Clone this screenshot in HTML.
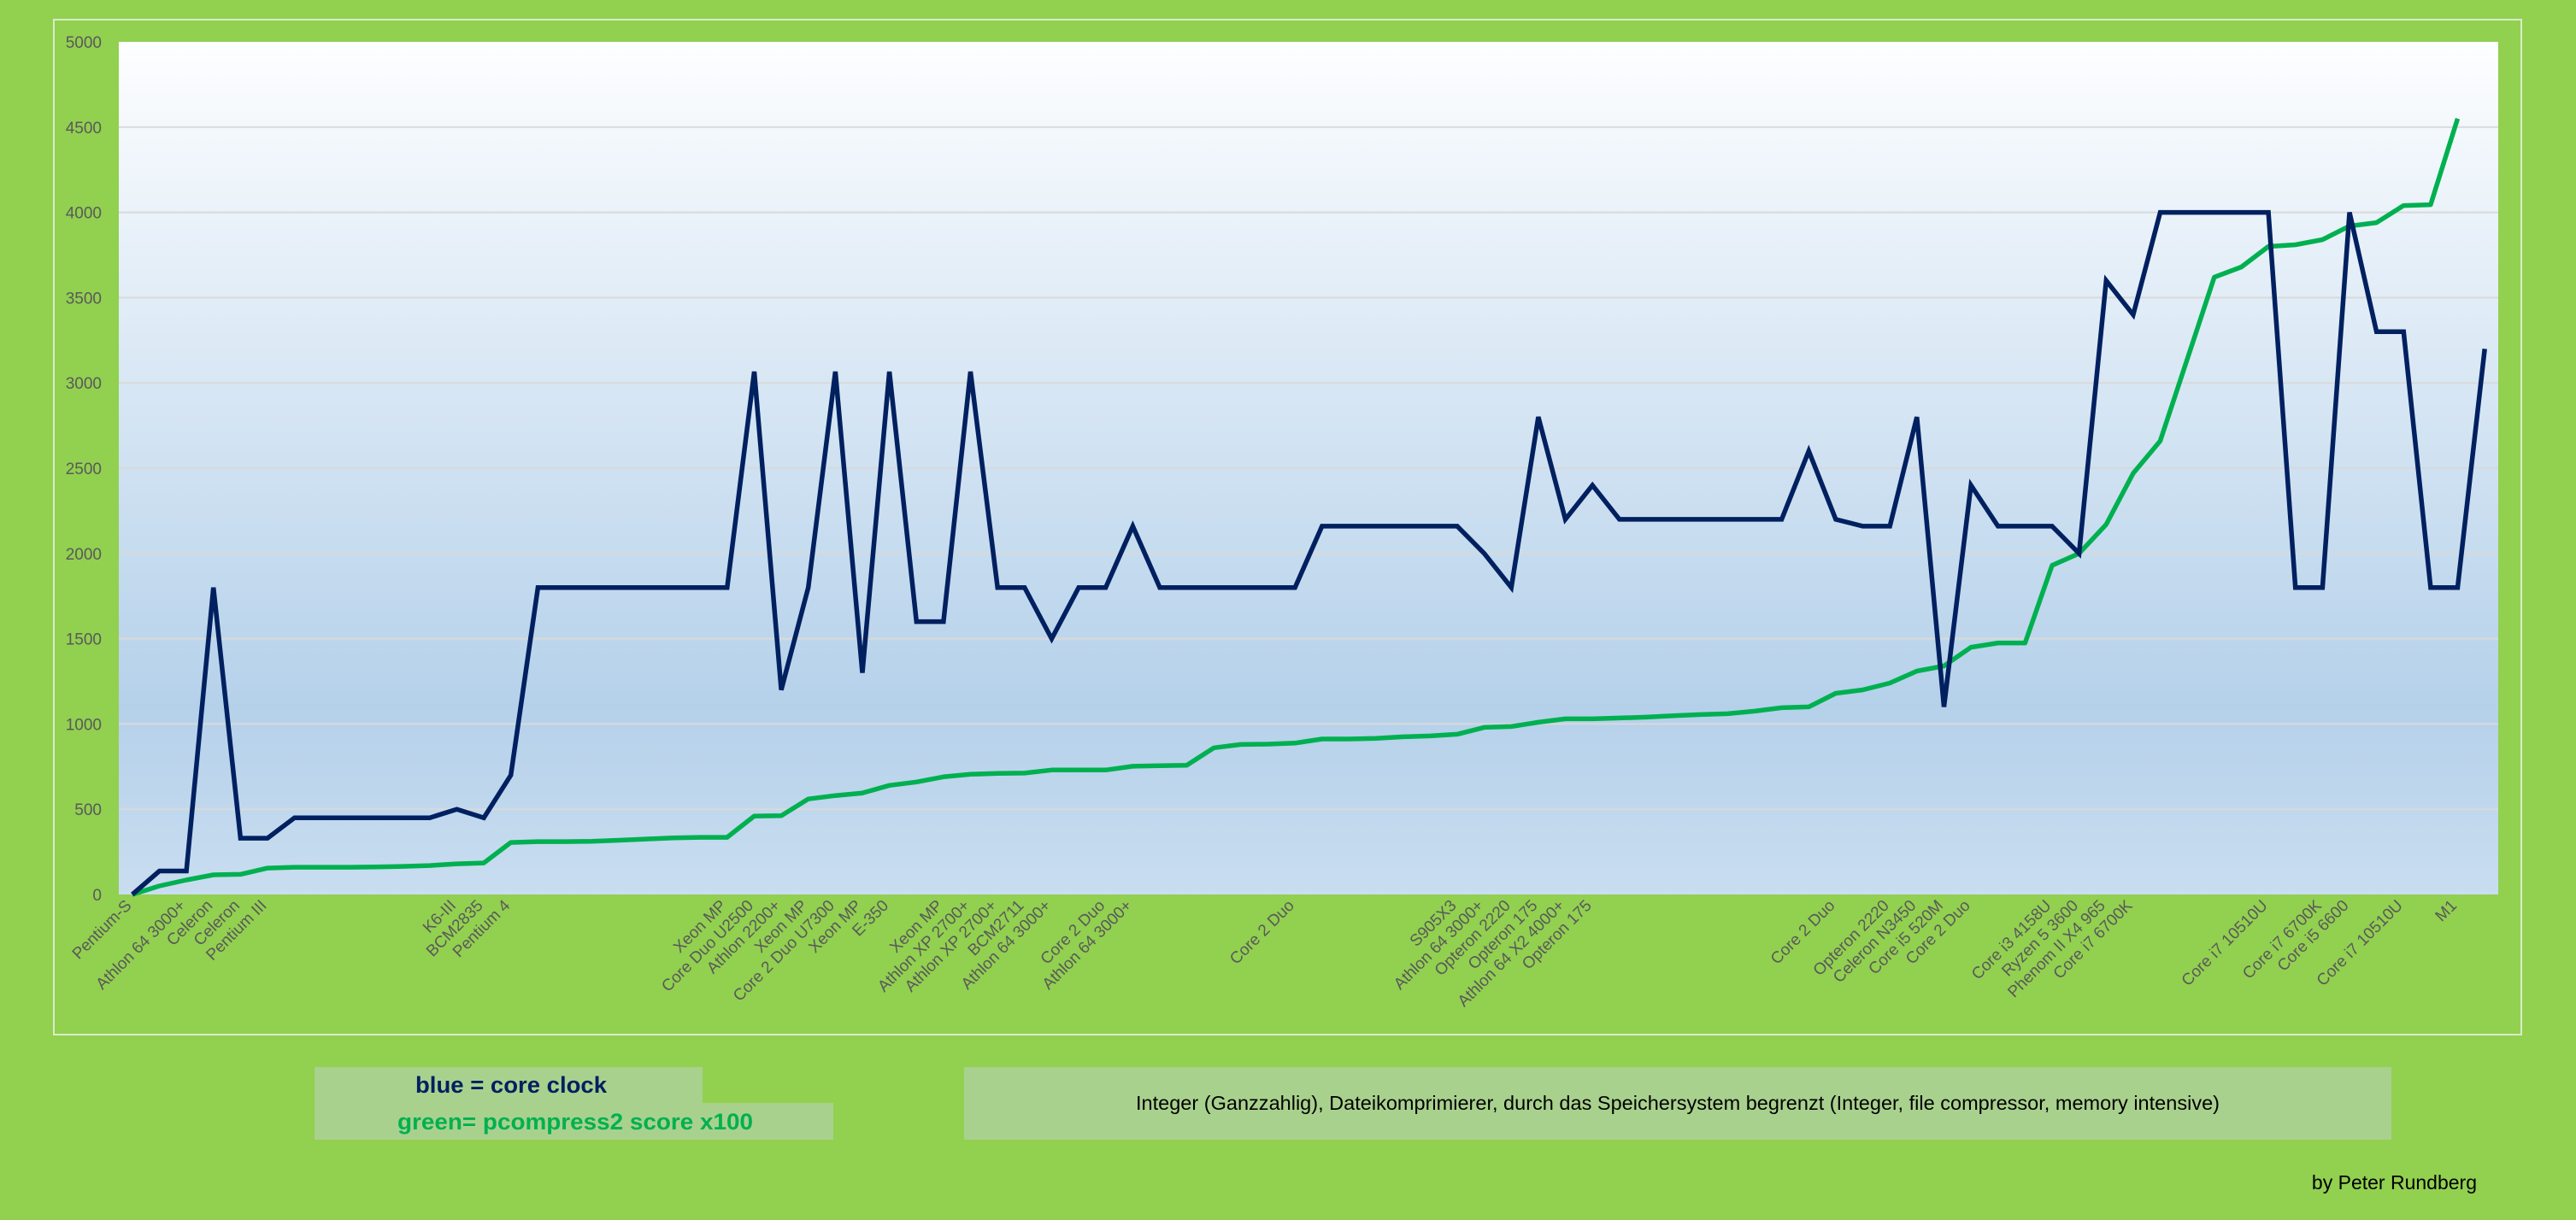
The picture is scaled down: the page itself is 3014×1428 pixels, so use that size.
<!DOCTYPE html>
<html><head><meta charset="utf-8"><style>
html,body{margin:0;padding:0;background:#92d050;}
svg{display:block;font-family:"Liberation Sans",sans-serif;}
</style></head><body>
<svg id="c" width="3014" height="1428" viewBox="0 0 3014 1428" xmlns="http://www.w3.org/2000/svg">
<defs><linearGradient id="bg" x1="0" y1="0" x2="0" y2="1">
<stop offset="0" stop-color="#fdfeff"/><stop offset="0.78" stop-color="#b5d1ea"/><stop offset="1" stop-color="#c9ddf0"/></linearGradient></defs>
<rect x="0" y="0" width="3014" height="1428" fill="#92d050"/>
<rect x="63" y="23" width="2887" height="1188" fill="none" stroke="#d8ecc8" stroke-width="2"/>
<rect x="139" y="49" width="2784" height="998" fill="url(#bg)"/>
<g id="grid"></g><g id="yt"></g><g id="xt"></g><g id="lines"></g>
<rect x="368" y="1249" width="454" height="43" fill="#a9d18e"/>
<rect x="368" y="1291" width="607" height="43" fill="#a9d18e"/>
<text x="486" y="1279" font-size="27" font-weight="bold" fill="#002060" textLength="224" lengthAdjust="spacingAndGlyphs">blue = core clock</text>
<text x="465" y="1322" font-size="27" font-weight="bold" fill="#00b050" textLength="416" lengthAdjust="spacingAndGlyphs">green= pcompress2 score x100</text>
<rect x="1128" y="1249" width="1670" height="85" fill="#a9d18e"/>
<text x="1963" y="1299" font-size="23" fill="#000" text-anchor="middle" textLength="1268" lengthAdjust="spacingAndGlyphs">Integer (Ganzzahlig), Dateikomprimierer, durch das Speichersystem begrenzt (Integer, file compressor, memory intensive)</text>
<text x="2898" y="1392" font-size="23" fill="#000" text-anchor="end">by Peter Rundberg</text>
</svg>
<script>
const blueValues=[0,138,138,1800,330,330,450,450,450,450,450,450,500,450,700,1800,1800,1800,1800,1800,1800,1800,1800,3066,1200,1800,3066,1300,3066,1600,1600,3066,1800,1800,1500,1800,1800,2160,1800,1800,1800,1800,1800,1800,2160,2160,2160,2160,2160,2160,2000,1800,2800,2200,2400,2200,2200,2200,2200,2200,2200,2200,2600,2200,2160,2160,2800,1100,2400,2160,2160,2160,2000,3600,3400,4000,4000,4000,4000,4000,1800,1800,4000,3300,3300,1800,1800,3200];
const greenValues=[0,50,85,115,118,155,160,160,160,162,165,170,180,185,305,310,310,312,318,325,332,335,335,460,462,560,580,595,640,660,690,705,710,712,730,730,730,752,755,758,860,880,882,888,912,912,916,925,930,940,980,985,1010,1030,1030,1035,1040,1048,1055,1060,1075,1095,1100,1180,1200,1240,1310,1340,1450,1475,1475,1930,2000,2170,2470,2660,3140,3620,3680,3800,3810,3840,3920,3940,4040,4045,4550,null];
const labelIndex=[0,2,3,4,5,12,13,14,22,23,24,25,26,27,28,30,31,32,33,34,36,37,43,49,50,51,52,53,54,63,65,66,67,68,71,72,73,74,79,81,82,84,86];
const labelText=["Pentium-S","Athlon 64 3000+","Celeron","Celeron","Pentium III","K6-III","BCM2835","Pentium 4","Xeon MP","Core Duo U2500","Athlon 2200+","Xeon MP","Core 2 Duo U7300","Xeon MP","E-350","Xeon MP","Athlon XP 2700+","Athlon XP 2700+","BCM2711","Athlon 64 3000+","Core 2 Duo","Athlon 64 3000+","Core 2 Duo","S905X3","Athlon 64 3000+","Opteron 2220","Opteron 175","Athlon 64 X2 4000+","Opteron 175","Core 2 Duo","Opteron 2220","Celeron N3450","Core i5 520M","Core 2 Duo","Core i3 4158U","Ryzen 5 3600","Phenom II X4 965","Core i7 6700K","Core i7 10510U","Core i7 6700K","Core i5 6600","Core i7 10510U","M1"];
const yTicks=[0,500,1000,1500,2000,2500,3000,3500,4000,4500,5000];
const NS="http://www.w3.org/2000/svg";
const L=139,R=2923,T=49,B=1047,N=blueValues.length,YMAX=5000;
function xs(i){return L+(R-L)/N*(i+0.5);}
function ys(v){return B-(B-T)*v/YMAX;}
function mk(t,a,p){const e=document.createElementNS(NS,t);for(const k in a)e.setAttribute(k,a[k]);p.appendChild(e);return e;}
const grid=document.getElementById('grid'),yt=document.getElementById('yt'),xt=document.getElementById('xt'),lines=document.getElementById('lines');
yTicks.forEach(v=>{
  if(v>0&&v<YMAX){const g=mk('line',{x1:L,x2:R,y1:ys(v),y2:ys(v),stroke:'#d9d9d9','stroke-width':2},grid);
  
  }
  const t=mk('text',{x:119,y:ys(v)+7,'font-size':19,fill:'#595959','text-anchor':'end'},yt);
  t.textContent=v;
  
  
});
labelIndex.forEach((idx,k)=>{
  const x=xs(idx),y=B+14;
  const t=mk('text',{x:x,y:y,'font-size':19,fill:'#595959','text-anchor':'end',transform:'rotate(-45 '+x+' '+y+')'},xt);
  t.textContent=labelText[k];
  
  
});
function path(vals){let d='';vals.forEach((v,i)=>{if(v===null)return;d+=(d?'L':'M')+xs(i).toFixed(1)+','+ys(v).toFixed(1);});return d;}
const gl=mk('path',{d:path(greenValues),fill:'none',stroke:'#00b050','stroke-width':5.5,'stroke-linejoin':'round'},lines);


const bl=mk('path',{d:path(blueValues),fill:'none',stroke:'#002060','stroke-width':5.5,'stroke-linejoin':'miter'},lines);


</script>
</body></html>
